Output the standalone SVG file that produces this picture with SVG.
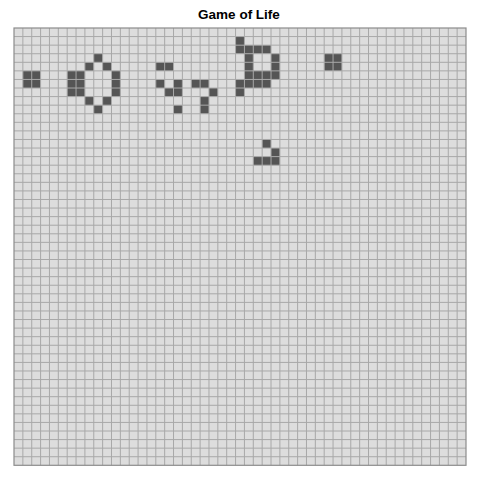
<svg xmlns="http://www.w3.org/2000/svg" width="480" height="480" viewBox="0 0 480 480">
<style>
.title{font-family:"Liberation Sans",Arial,sans-serif;font-weight:bold;font-size:13.5px;fill:#000}
.live rect{fill:#555555}
.grid{fill:none;stroke:#A8A8A8;stroke-width:1}
</style>
<rect width="480" height="480" fill="#FFFFFF"/>
<text class="title" x="239" y="19.3" text-anchor="middle">Game of Life</text>
<rect id="board" x="14" y="28" width="452" height="437.3" fill="#DDDDDD"/>
<g class="live">
<g id="block-left"><rect x="22.86" y="70.87" width="17.73" height="17.15"/></g>
<g id="shape-a">
<rect x="93.76" y="53.72" width="8.87" height="8.58"/>
<rect x="84.90" y="62.30" width="8.86" height="8.57"/>
<rect x="102.63" y="62.30" width="8.86" height="8.57"/>
<rect x="67.18" y="70.87" width="17.72" height="25.73"/>
<rect x="111.49" y="70.87" width="8.86" height="25.73"/>
<rect x="84.90" y="96.60" width="8.86" height="8.57"/>
<rect x="102.63" y="96.60" width="8.86" height="8.57"/>
<rect x="93.76" y="105.17" width="8.87" height="8.58"/>
</g>
<g id="shape-b">
<rect x="155.80" y="62.30" width="17.73" height="8.57"/>
<rect x="155.80" y="79.45" width="8.87" height="8.57"/>
<rect x="173.53" y="79.45" width="8.86" height="8.57"/>
<rect x="164.67" y="88.02" width="17.72" height="8.58"/>
<rect x="173.53" y="105.17" width="8.86" height="8.58"/>
</g>
<g id="shape-c">
<rect x="191.25" y="79.45" width="17.73" height="8.57"/>
<rect x="208.98" y="88.02" width="8.86" height="8.58"/>
<rect x="200.12" y="96.60" width="8.86" height="17.15"/>
</g>
<g id="shape-d">
<rect x="235.57" y="36.57" width="8.86" height="8.58"/>
<rect x="235.57" y="45.15" width="35.45" height="8.57"/>
<rect x="244.43" y="53.72" width="8.86" height="17.15"/>
<rect x="271.02" y="53.72" width="8.86" height="25.73"/>
<rect x="244.43" y="70.87" width="35.45" height="8.58"/>
<rect x="235.57" y="79.45" width="35.45" height="8.57"/>
<rect x="235.57" y="88.02" width="8.86" height="8.58"/>
</g>
<g id="block-right"><rect x="324.19" y="53.72" width="17.73" height="17.15"/></g>
<g id="glider">
<rect x="262.16" y="139.47" width="8.86" height="8.57"/>
<rect x="271.02" y="148.04" width="8.86" height="8.58"/>
<rect x="253.29" y="156.62" width="26.59" height="8.57"/>
</g>
</g>
<path class="grid" d="M22.86 28V465.3M31.73 28V465.3M40.59 28V465.3M49.45 28V465.3M58.31 28V465.3M67.18 28V465.3M76.04 28V465.3M84.90 28V465.3M93.76 28V465.3M102.63 28V465.3M111.49 28V465.3M120.35 28V465.3M129.22 28V465.3M138.08 28V465.3M146.94 28V465.3M155.80 28V465.3M164.67 28V465.3M173.53 28V465.3M182.39 28V465.3M191.25 28V465.3M200.12 28V465.3M208.98 28V465.3M217.84 28V465.3M226.70 28V465.3M235.57 28V465.3M244.43 28V465.3M253.29 28V465.3M262.16 28V465.3M271.02 28V465.3M279.88 28V465.3M288.74 28V465.3M297.61 28V465.3M306.47 28V465.3M315.33 28V465.3M324.19 28V465.3M333.06 28V465.3M341.92 28V465.3M350.78 28V465.3M359.65 28V465.3M368.51 28V465.3M377.37 28V465.3M386.23 28V465.3M395.10 28V465.3M403.96 28V465.3M412.82 28V465.3M421.68 28V465.3M430.55 28V465.3M439.41 28V465.3M448.27 28V465.3M457.14 28V465.3M14 36.57H466M14 45.15H466M14 53.72H466M14 62.30H466M14 70.87H466M14 79.45H466M14 88.02H466M14 96.60H466M14 105.17H466M14 113.75H466M14 122.32H466M14 130.89H466M14 139.47H466M14 148.04H466M14 156.62H466M14 165.19H466M14 173.77H466M14 182.34H466M14 190.92H466M14 199.49H466M14 208.06H466M14 216.64H466M14 225.21H466M14 233.79H466M14 242.36H466M14 250.94H466M14 259.51H466M14 268.09H466M14 276.66H466M14 285.24H466M14 293.81H466M14 302.38H466M14 310.96H466M14 319.53H466M14 328.11H466M14 336.68H466M14 345.26H466M14 353.83H466M14 362.41H466M14 370.98H466M14 379.55H466M14 388.13H466M14 396.70H466M14 405.28H466M14 413.85H466M14 422.43H466M14 431.00H466M14 439.58H466M14 448.15H466M14 456.73H466"/>
<rect x="14" y="28" width="452" height="437.3" fill="none" stroke="#8C8C8C" stroke-width="1.2"/>
</svg>
